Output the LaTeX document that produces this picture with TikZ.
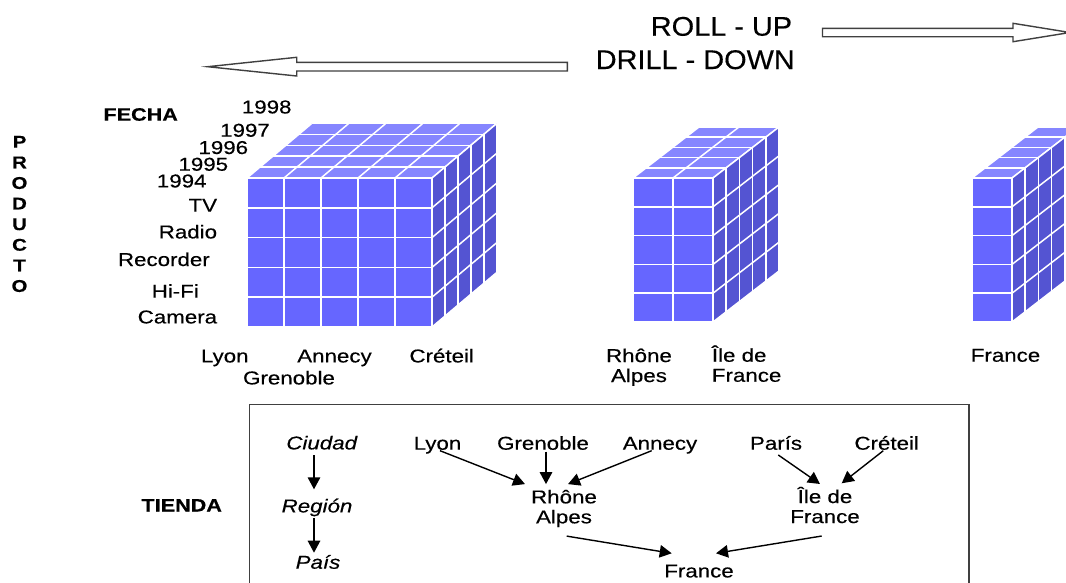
\documentclass[tikz,border=0pt]{standalone}
\usepackage{fontspec}
\setmainfont{Liberation Sans}[FakeStretch=1.2, FakeBold=0.35]
\newfontfamily\headfont{Liberation Sans}[FakeStretch=1.07, FakeBold=0.35]
\usetikzlibrary{arrows.meta,calc}

\definecolor{cubefrontc}{RGB}{102,102,255}
\definecolor{cubetopc}{RGB}{134,134,255}
\definecolor{cubesidec}{RGB}{84,84,210}
\definecolor{framec}{RGB}{64,64,64}

\tikzset{
  lbl/.style={inner sep=0pt, font=\fontsize{18.6}{20}\selectfont},
  itlbl/.style={inner sep=0pt, font=\fontsize{18.6}{20}\selectfont\itshape},
  dimlbl/.style={inner sep=0pt, font=\fontsize{18}{20}\selectfont\bfseries},
  headtxt/.style={inner sep=0pt, font=\headfont\fontsize{27}{30}\selectfont},
  arr/.style={line width=1.4pt, -{Triangle[length=12pt,width=12.5pt]}},
  hollow/.style={draw=framec, line width=1.4pt, fill=white, line join=miter},
  cubefront/.style={fill=cubefrontc},
  cubetop/.style={fill=cubetopc},
  cubeside/.style={fill=cubesidec},
  cubegrid/.style={draw=white, line width=1.5pt},
}

% data cube: x0, y0, columns, cell width, rows, cell height, layers, layer dx, layer dy (upwards)
\newcommand\datacube[9]{%
  \pgfmathsetmacro\cxa{#1}%
  \pgfmathsetmacro\cya{#2}%
  \pgfmathsetmacro\cxb{#1+#3*#4}%
  \pgfmathsetmacro\cyb{#2+#5*#6}%
  \pgfmathsetmacro\cdx{#7*#8}%
  \pgfmathsetmacro\cdy{#7*#9}%
  % top face
  \fill[cubetop] (\cxa,\cya) -- (\cxb,\cya) -- (\cxb+\cdx,\cya-\cdy) -- (\cxa+\cdx,\cya-\cdy) -- cycle;
  \foreach \kk in {0,...,#7} \draw[cubegrid] (\cxa+\kk*#8,\cya-\kk*#9) -- (\cxb+\kk*#8,\cya-\kk*#9);
  \foreach \ii in {0,...,#3} \draw[cubegrid] (\cxa+\ii*#4,\cya) -- (\cxa+\ii*#4+\cdx,\cya-\cdy);
  % side face
  \fill[cubeside] (\cxb,\cya) -- (\cxb,\cyb) -- (\cxb+\cdx,\cyb-\cdy) -- (\cxb+\cdx,\cya-\cdy) -- cycle;
  \foreach \kk in {0,...,#7} \draw[cubegrid] (\cxb+\kk*#8,\cya-\kk*#9) -- (\cxb+\kk*#8,\cyb-\kk*#9);
  \foreach \jj in {0,...,#5} \draw[cubegrid] (\cxb,\cya+\jj*#6) -- (\cxb+\cdx,\cya+\jj*#6-\cdy);
  % front face
  \fill[cubefront] (\cxa,\cya) rectangle (\cxb,\cyb);
  \foreach \ii in {0,...,#3} \draw[cubegrid] (\cxa+\ii*#4,\cya) -- (\cxa+\ii*#4,\cyb);
  \foreach \jj in {0,...,#5} \draw[cubegrid] (\cxa,\cya+\jj*#6) -- (\cxb,\cya+\jj*#6);
}

\begin{document}
\begin{tikzpicture}[x=1pt, y=-1pt]
  \useasboundingbox (0,0) rectangle (1066,582);
  \fill[white] (0,0) rectangle (1066,582);
  \clip (0,0) rectangle (1066,582);

  % navigation headings and hollow arrows
  \node[headtxt, anchor=base east] (rollup) at (792.3,35.7) {ROLL - UP};
  \node[headtxt, anchor=base east] (drilldown) at (795,69) {DRILL - DOWN};
  \draw[hollow] (822.5,28.3) -- (1013,28.3) -- (1013,23.3) -- (1070,32.5)
    -- (1013,41.7) -- (1013,36.7) -- (822.5,36.7) -- cycle;
  \draw[hollow] (567.3,62.3) -- (296.7,62.3) -- (296.7,57.3) -- (207.7,66.7)
    -- (296.7,76) -- (296.7,71) -- (567.3,71) -- cycle;

  % cubes: city, region and country level
  \datacube{247}{178}{5}{37}{5}{29.8}{5}{12.94}{10.9}
  \datacube{633}{178}{2}{40}{5}{28.8}{5}{13.2}{10.2}
  \datacube{972}{178}{1}{40}{5}{28.8}{5}{13.2}{10.2}

  % dimension names
  \node[dimlbl, anchor=base west] (fecha) at (103.3,120.7) {FECHA};
  \node[inner sep=0pt, align=center, font=\fontsize{17}{20.6}\selectfont\bfseries] (producto) at (19.5,214) {P\\R\\O\\D\\U\\C\\T\\O};
  \node[dimlbl, anchor=base] (tienda) at (181.7,511.5) {TIENDA};

  % years
  \node[lbl, anchor=base east] (y98) at (291.7,113.4) {1998};
  \node[lbl, anchor=base east] (y97) at (270,136.7) {1997};
  \node[lbl, anchor=base east] (y96) at (248.3,154) {1996};
  \node[lbl, anchor=base east] (y95) at (228.3,170.7) {1995};
  \node[lbl, anchor=base east] (y94) at (206.7,187.4) {1994};

  % products
  \node[lbl, anchor=base east] (ptv) at (217.3,211.7) {TV};
  \node[lbl, anchor=base east] (pradio) at (217.3,238.4) {Radio};
  \node[lbl, anchor=base east] (precorder) at (210,266) {Recorder};
  \node[lbl, anchor=base east] (phifi) at (199,297.7) {Hi-Fi};
  \node[lbl, anchor=base east] (pcamera) at (217.3,323.4) {Camera};

  % stores under the cubes
  \node[lbl, anchor=base] (clyon) at (224.8,362.4) {Lyon};
  \node[lbl, anchor=base] (cannecy) at (334.5,362.4) {Annecy};
  \node[lbl, anchor=base] (ccreteil) at (441.7,362.4) {Créteil};
  \node[lbl, anchor=base] (cgrenoble) at (289,384.4) {Grenoble};
  \node[lbl, align=center] (crhone) at (639,367.2) {Rhône\\Alpes};
  \node[lbl, align=left, anchor=west] (cile) at (711.7,363.7) {Île de\\France};
  \node[lbl, anchor=base] (cfrance) at (1005.5,361.7) {France};

  % store hierarchy frame
  \draw[framec, line width=1.5pt] (249.5,404.5) rectangle (969,600);

  \node[itlbl, anchor=base] (ciudad) at (321.7,449.4) {Ciudad};
  \node[itlbl, anchor=base] (region) at (317,512.4) {Región};
  \node[itlbl, anchor=base] (pais) at (318,568.7) {País};
  \draw[arr] ($(ciudad.base)+(-7.7,5.6)$) -- ($(region.base)+(-3,-23.1)$);
  \draw[arr] ($(region.base)+(-3,5.9)$) -- ($(pais.base)+(-4,-16)$);

  \node[lbl, anchor=base] (lyon) at (437.5,449.7) {Lyon};
  \node[lbl, anchor=base] (grenoble) at (543,449.7) {Grenoble};
  \node[lbl, anchor=base] (annecy) at (660,449.7) {Annecy};
  \node[lbl, anchor=base] (paris) at (776,449.7) {París};
  \node[lbl, anchor=base] (creteil) at (886.7,449.7) {Créteil};
  \node[lbl, align=center] (rhone) at (564,508.5) {Rhône\\Alpes};
  \node[lbl, align=center] (ile) at (825,505) {Île de\\France};
  \node[lbl, anchor=base] (france) at (699,577.4) {France};

  \draw[arr] ($(lyon.base)+(2.5,1)$) -- ($(rhone.north)+(-39,-5.5)$);
  \draw[arr] ($(grenoble.base)+(3,2)$) -- ($(rhone.north)+(-18,-5.5)$);
  \draw[arr] ($(annecy.base)+(-8.3,1)$) -- ($(rhone.north)+(4,-5.5)$);
  \draw[arr] ($(paris.base)+(2.3,5.3)$) -- ($(ile.north)+(-5,-2.6)$);
  \draw[arr] ($(creteil.base)+(-3.4,1)$) -- ($(ile.north)+(16.7,-3.3)$);
  \draw[arr] ($(rhone.south)+(2.7,8.7)$) -- ($(france.base)+(-27.3,-24.1)$);
  \draw[arr] ($(ile.south)+(-3.3,12.6)$) -- ($(france.base)+(17,-24.1)$);
\end{tikzpicture}
\end{document}
